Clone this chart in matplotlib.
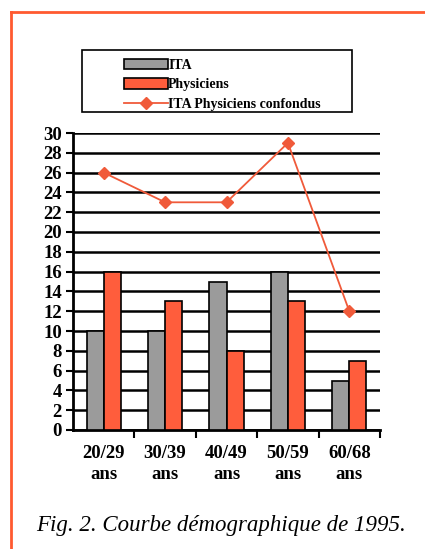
import matplotlib
matplotlib.use("Agg")
import matplotlib.pyplot as plt
import numpy as np
from matplotlib.lines import Line2D
from matplotlib.patches import Rectangle

categories = ["20/29\nans", "30/39\nans", "40/49\nans", "50/59\nans", "60/68\nans"]
ita = [10, 10, 15, 16, 5]
physiciens = [16, 13, 8, 13, 7]
confondus = [26, 23, 23, 29, 12]
yticks = list(range(0, 31, 2))

GRAY, ORANGE, LINE = "#9b9b9b", "#ff5d3c", "#f05a3a"
plt.rcParams["font.family"] = ["Liberation Serif", "DejaVu Serif"]

fig = plt.figure(figsize=(4.25, 5.49), dpi=100)
ax = fig.add_axes([73 / 425, 1 - 430 / 549, 307 / 425, 297 / 549])

x = np.arange(len(categories))
w = 0.28
b1 = ax.bar(x - w / 2, ita, w, color=GRAY, edgecolor="black", lw=1.2, zorder=3, label="ITA")
b2 = ax.bar(x + w / 2, physiciens, w, color=ORANGE, edgecolor="black", lw=1.2, zorder=3,
            label="Physiciens")
ln, = ax.plot(x, confondus, "-D", color=LINE, ms=6, lw=1.3, zorder=4,
              label="ITA Physiciens confondus")

ax.set_xlim(-0.5, len(categories) - 0.5)
ax.set_ylim(0, 30)
ax.set_yticks(yticks)
ax.set_yticklabels([str(v) for v in yticks], fontsize=13.5, fontweight="bold")
ax.yaxis.grid(True, color="black", lw=1.8, zorder=0)
ax.set_axisbelow(True)
ax.set_xticks(x)
ax.set_xticklabels(categories, fontsize=13.5, fontweight="bold", linespacing=1.3)
ax.tick_params(axis="x", length=0, pad=11)
ax.set_xticks(np.arange(-0.5, len(categories), 1.0)[1:], minor=True)
ax.tick_params(axis="x", which="minor", length=6, width=1.5, direction="out")
ax.tick_params(axis="y", length=5, width=1.5, direction="out", pad=3)
for s in ["top", "right"]:
    ax.spines[s].set_visible(False)
for s in ["left", "bottom"]:
    ax.spines[s].set_linewidth(2)

# legend box
fig.patches.append(Rectangle((82 / 425, 1 - 112 / 549), 270 / 425, 62 / 549,
                             transform=fig.transFigure, fill=False, ec="black", lw=1.2))
ax.legend(handles=[b1, b2, ln], loc="upper left", bbox_to_anchor=(114 / 425, 1 - 49 / 549),
          bbox_transform=fig.transFigure, frameon=False,
          prop={"weight": "bold", "size": 10}, handlelength=3.2, handleheight=0.8,
          labelspacing=0.45, handletextpad=0.0, borderpad=0.2)

# orange frame
fig.add_artist(Line2D([11 / 425, 1.0], [1 - 12 / 549] * 2, color="#ff5a30", lw=2))
fig.add_artist(Line2D([11 / 425] * 2, [0, 1 - 12 / 549], color="#ff5a30", lw=2))

fig.text(221 / 425, 1 - 525 / 549, "Fig. 2. Courbe démographique de 1995.",
         ha="center", va="center", fontsize=16.5, style="italic")

fig.savefig("out.png", dpi=100)
